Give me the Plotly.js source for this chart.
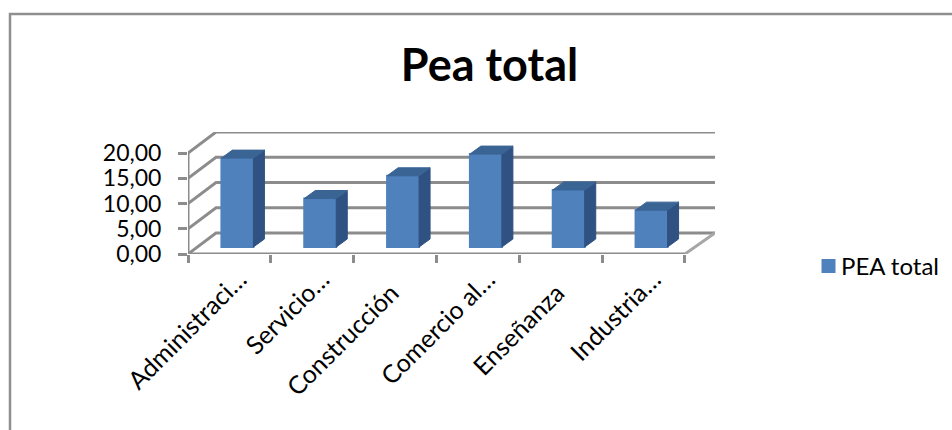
<!DOCTYPE html>
<html>
<head>
<meta charset="utf-8">
<script src="https://cdn.plot.ly/plotly-3.0.1.min.js"></script>
<style>html,body{margin:0;padding:0;background:#fff;overflow:hidden}</style>
</head>
<body>
<div id="chart" style="width:952px;height:430px"></div>
<script>
// PEA total by economic sector
const categories = ["Administraci…", "Servicio…", "Construcción", "Comercio al…", "Enseñanza", "Industria…"];
const peaTotal = [17.6, 9.6, 14.1, 18.4, 11.3, 7.3];
const yTicks = [0, 5, 10, 15, 20];

const W = 952, H = 430;
const plot = {left: 188, right: 715, top: 132, bottom: 254};
const pxPerCat = 82.83, pxPerUnit = 5.05;

// Pseudo-3D offsets: wall depth, then the bars' inset and depth
const wallDx = 28 / pxPerCat, wallDy = 21 / pxPerUnit;
const insetDx = 8 / pxPerCat, insetDy = 7 / pxPerUnit;
const barDx = 11 / pxPerCat, barDy = 8 / pxPerUnit;
const barWidth = 32 / pxPerCat;

const xRange = [-0.5, -0.5 + (plot.right - plot.left) / pxPerCat];
const yRange = [0, (plot.bottom - plot.top) / pxPerUnit];

const gridColor = "#8c8c8c";
const gridLine = {color: gridColor, width: 3};
const lines = (x, y, color) => ({
  type: "scatter", mode: "lines", x, y, hoverinfo: "skip", showlegend: false,
  line: color ? {color, width: 3} : gridLine
});
const face = (x, y, color) => ({
  type: "scatter", mode: "lines", x, y, xaxis: "x2", yaxis: "y2",
  fill: "toself", fillcolor: color, line: {color, width: 1},
  hoverinfo: "skip", showlegend: false
});

// Wall and floor lines behind the bars
const wireframe = [];
yTicks.forEach(v => wireframe.push(
  lines([-0.5, -0.5 + wallDx, xRange[1]], [v, v + wallDy, v + wallDy])
));
wireframe.push(lines([-0.5, -0.5], [0, yTicks[yTicks.length - 1]]));
wireframe.push(lines([-0.5, 5.5], [0, 0]));
wireframe.push(lines([5.5, xRange[1]], [0, wallDy], "#a6a6a6"));

const half = barWidth / 2;
const bar = {
  type: "bar", name: "PEA total",
  x: categories.map((_, i) => i), y: peaTotal,
  xaxis: "x2", yaxis: "y2", width: barWidth,
  marker: {color: "#4f81bd", line: {color: "#4f81bd", width: 2}},
  hoverinfo: "y", showlegend: true
};
const sides = peaTotal.map((v, i) => face(
  [i + half, i + half + barDx, i + half + barDx, i + half, i + half],
  [0, barDy, v + barDy, v, 0], "#2f5282"
));
const tops = peaTotal.map((v, i) => face(
  [i - half, i - half + barDx, i + half + barDx, i + half, i - half],
  [v, v + barDy, v + barDy, v, v], "#3a6494"
));

const px = x => (x - plot.left) / (plot.right - plot.left);
const py = y => (plot.bottom - y) / (plot.bottom - plot.top);

// Whole words stop a little short of the truncated labels' ellipsis
const tickLabels = categories.map(c => c.endsWith("…") ? c : c + "\u00a0\u00a0\u00a0");

const layout = {
  width: W, height: H,
  paper_bgcolor: "#fff", plot_bgcolor: "#fff",
  margin: {l: plot.left, r: W - plot.right, t: plot.top, b: H - plot.bottom, autoexpand: false, pad: 0},
  separators: ",.",
  bargap: 0,
  title: {
    text: "<b>Pea total</b>",
    font: {family: "Lato, sans-serif", size: 45, color: "#000"},
    x: px(489.5), xanchor: "center", xref: "paper",
    y: 1 - 65 / H, yanchor: "middle", yref: "container"
  },
  xaxis: {
    type: "linear", range: xRange, domain: [0, 1],
    tickmode: "array", tickvals: categories.map((_, i) => i), ticktext: tickLabels,
    tickangle: -45, ticks: "",
    tickfont: {family: "Lato, sans-serif", size: 25, color: "#000"},
    ticklabelshift: 10, ticklabelstandoff: 5,
    showgrid: false, zeroline: false, showline: false,
    minor: {
      tickmode: "array", tickvals: [-0.5, 0.5, 1.5, 2.5, 3.5, 4.5, 5.5],
      ticks: "outside", ticklen: 8, tickwidth: 3, tickcolor: gridColor, showgrid: false
    }
  },
  yaxis: {
    range: yRange, tickmode: "array", tickvals: yTicks, tickformat: ".2f",
    ticks: "outside", ticklen: 9, tickwidth: 3, tickcolor: gridColor,
    ticklabelstandoff: 12,
    tickfont: {family: "Lato, sans-serif", size: 23, color: "#000"},
    showgrid: false, zeroline: false, showline: false
  },
  // Plane through the bars' feet: same scale, moved back and up
  xaxis2: {
    overlaying: "x", range: [xRange[0] - insetDx, xRange[1] - insetDx],
    visible: false, anchor: "y"
  },
  yaxis2: {
    overlaying: "y", range: [yRange[0] - insetDy, yRange[1] - insetDy],
    visible: false, anchor: "x"
  },
  legend: {
    x: px(801), y: py(266.5), xanchor: "left", yanchor: "middle",
    font: {family: "Lato, sans-serif", size: 24, color: "#000"},
    itemwidth: 30, bgcolor: "rgba(0,0,0,0)", borderwidth: 0
  },
  shapes: [{
    // Chart frame, open towards the page edge
    type: "path", xref: "paper", yref: "paper", layer: "below",
    path: `M ${px(10)} ${py(H + 5)} L ${px(10)} ${py(14)} L ${px(W + 5)} ${py(14)}`,
    line: {color: "#8f8f8f", width: 2.5}
  }]
};

Plotly.newPlot("chart", [...wireframe, bar, ...sides, ...tops], layout, {displayModeBar: false, staticPlot: true}).then(() => {
  // Tighten the gap between the legend swatch and its label
  const swatch = document.querySelector(".legend .legendpoints");
  if (swatch) swatch.setAttribute("transform", "translate(7.5,0)");
});
</script>
</body>
</html>
